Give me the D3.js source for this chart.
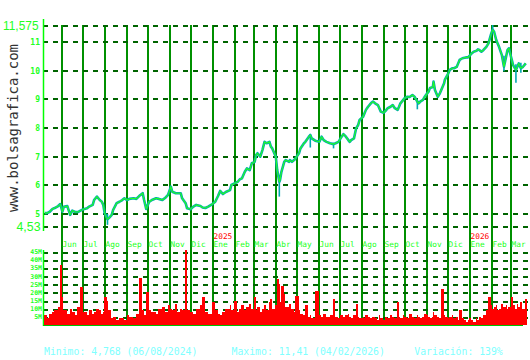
<!DOCTYPE html>
<html><head><meta charset="utf-8">
<script src="https://cdn.jsdelivr.net/npm/d3@7"></script>
<style>body{margin:0;background:#fff}svg{display:block}</style>
</head><body><svg id="c" width="530" height="360"></svg>
<script>
// ---- data ----
const dates = ["2024-05-09","2024-05-13","2024-05-16","2024-05-20","2024-05-23","2024-05-28","2024-05-31","2024-06-03","2024-06-05","2024-06-10",
"2024-06-14","2024-06-17","2024-06-21","2024-06-25","2024-06-28","2024-07-03","2024-07-08","2024-07-11","2024-07-16","2024-07-18",
"2024-07-22","2024-07-26","2024-07-29","2024-07-31","2024-08-02","2024-08-06","2024-08-08","2024-08-12","2024-08-14","2024-08-19",
"2024-08-23","2024-08-27","2024-08-30","2024-09-03","2024-09-06","2024-09-12","2024-09-16","2024-09-20","2024-09-25","2024-09-27",
"2024-09-30","2024-10-04","2024-10-08","2024-10-14","2024-10-18","2024-10-23","2024-10-28","2024-10-31","2024-11-04","2024-11-06",
"2024-11-11","2024-11-14","2024-11-18","2024-11-20","2024-11-25","2024-11-27","2024-12-02","2024-12-06","2024-12-10","2024-12-16",
"2024-12-19","2024-12-23","2024-12-27","2025-01-02","2025-01-06","2025-01-10","2025-01-13","2025-01-17","2025-01-21","2025-01-27",
"2025-01-29","2025-02-03","2025-02-07","2025-02-10","2025-02-13","2025-02-17","2025-02-20","2025-02-24","2025-02-27","2025-03-03",
"2025-03-05","2025-03-07","2025-03-11","2025-03-14","2025-03-17","2025-03-20","2025-03-24","2025-03-26","2025-03-28","2025-04-02",
"2025-04-04","2025-04-07","2025-04-08","2025-04-10","2025-04-14","2025-04-16","2025-04-21","2025-04-22","2025-04-25","2025-04-28",
"2025-04-30","2025-05-05","2025-05-07","2025-05-12","2025-05-14","2025-05-19","2025-05-21","2025-05-23","2025-05-28","2025-06-03",
"2025-06-06","2025-06-09","2025-06-13","2025-06-18","2025-06-23","2025-06-26","2025-06-30","2025-07-03","2025-07-07","2025-07-10",
"2025-07-14","2025-07-16","2025-07-18","2025-07-22","2025-07-25","2025-07-28","2025-07-30","2025-08-04","2025-08-06","2025-08-08",
"2025-08-11","2025-08-15","2025-08-18","2025-08-21","2025-08-25","2025-08-27","2025-08-29","2025-09-02","2025-09-05","2025-09-08",
"2025-09-12","2025-09-15","2025-09-18","2025-09-22","2025-09-24","2025-09-26","2025-09-30","2025-10-02","2025-10-06","2025-10-09",
"2025-10-13","2025-10-16","2025-10-20","2025-10-22","2025-10-24","2025-10-28","2025-10-30","2025-11-03","2025-11-05","2025-11-07",
"2025-11-11","2025-11-12","2025-11-14","2025-11-18","2025-11-21","2025-11-24","2025-11-27","2025-11-28","2025-12-03","2025-12-05",
"2025-12-09","2025-12-11","2025-12-15","2025-12-17","2025-12-19","2025-12-23","2025-12-26","2025-12-29","2025-12-31","2026-01-02",
"2026-01-05","2026-01-08","2026-01-12","2026-01-14","2026-01-16","2026-01-19","2026-01-22","2026-01-26","2026-01-29","2026-02-02",
"2026-02-04","2026-02-06","2026-02-09","2026-02-11","2026-02-13","2026-02-17","2026-02-20","2026-02-23","2026-02-25","2026-02-27",
"2026-03-02","2026-03-05","2026-03-09","2026-03-11","2026-03-13","2026-03-16","2026-03-19","2026-03-23"];

const closes = [4.98,4.99,5.03,5.13,5.16,5.23,5.30,5.03,5.20,5.23,
4.92,5.07,5.02,5.02,5.06,5.12,5.15,5.21,5.27,5.44,
5.56,5.44,5.38,5.27,4.98,4.77,4.81,4.92,5.09,5.33,
5.38,5.44,5.50,5.44,5.48,5.50,5.48,5.58,5.68,5.44,
5.13,5.37,5.44,5.50,5.48,5.44,5.54,5.62,5.91,5.73,
5.68,5.68,5.68,5.50,5.33,5.15,5.12,5.21,5.27,5.23,
5.18,5.16,5.21,5.30,5.38,5.58,5.76,5.65,5.72,5.79,
5.97,6.03,6.08,6.17,6.20,6.43,6.55,6.49,6.73,6.78,
7.02,7.08,6.96,7.19,7.48,7.43,7.48,7.31,7.25,6.96,
6.49,6.08,6.14,6.43,6.78,6.84,6.78,6.84,6.78,6.84,
6.90,7.08,7.25,7.43,7.48,7.66,7.72,7.60,7.52,7.48,
7.66,7.54,7.48,7.43,7.40,7.43,7.48,7.60,7.75,7.68,
7.54,7.48,7.54,7.60,7.95,8.07,8.25,8.36,8.48,8.60,
8.71,8.83,8.89,8.83,8.77,8.66,8.54,8.50,8.57,8.66,
8.71,8.77,8.66,8.60,8.71,8.83,8.95,9.01,9.06,9.05,
9.12,9.06,8.89,8.83,8.89,8.95,9.04,9.18,9.24,9.37,
9.40,9.59,9.30,9.06,9.18,9.36,9.53,9.65,9.88,10.00,
10.06,10.06,10.11,10.23,10.35,10.41,10.43,10.44,10.44,10.49,
10.58,10.64,10.67,10.72,10.70,10.64,10.70,10.81,10.93,11.28,
11.41,11.34,11.05,10.93,10.81,10.52,10.11,10.46,10.70,10.76,
10.46,10.17,10.00,10.11,10.23,10.06,10.11,10.23];

// volume in millions of shares
const volumes = [6,4,7,8,9,11,37,17,9,7,
10,8,6,11,23,8,6,9,7,8,
10,9,7,8,17,15,9,4,5,3,
4,4,3,6,5,4,7,29,9,6,
20,9,8,7,10,11,8,12,10,9,
13,8,10,9,46,9,8,7,10,12,
17,8,7,14,9,7,6,8,10,12,
9,15,8,10,12,9,11,13,10,17,
9,11,8,10,12,9,14,16,10,12,
28,25,14,24,19,11,9,13,10,8,
18,9,7,6,12,5,6,4,21,6,
5,7,5,6,16,5,4,6,5,6,
7,5,4,6,13,5,4,5,4,6,
5,4,5,4,3,6,4,3,5,4,
6,5,4,14,5,4,6,5,4,7,
5,4,6,5,4,5,7,6,5,4,
5,8,6,5,4,22,6,5,4,5,
6,4,5,3,9,4,3,2,3,4,
3,2,4,3,5,4,6,9,17,12,
10,11,12,9,10,13,11,12,10,11,
17,12,10,13,11,14,10,16];

// intraday ranges (teal) where the high/low stands out
const rangeDates = ["2024-08-06","2025-04-07","2025-05-21","2025-06-23","2025-10-20","2026-02-04","2026-02-20","2026-03-09","2026-03-16"];
const rangeLows  = [4.57, 5.56, 7.28, 7.25, 8.62, 11.30, 9.95, 9.55, 9.90];
const rangeHighs = [4.95, 6.30, 7.75, 7.45, 8.95, 11.575, 10.50, 10.20, 10.25];

const priceMin = 4.53, priceMax = 11.575;
const priceTicks = [5, 6, 7, 8, 9, 10, 11];
const volTicks = [5, 10, 15, 20, 25, 30, 35, 40, 45];
const volTickLabels = ["5M","10M","15M","20M","25M","30M","35M","40M","45M"];
const monthNames = ["Ene","Feb","Mar","Abr","May","Jun","Jul","Ago","Sep","Oct","Nov","Dic"];
const minClose = 4.768, minDate = "06/08/2024";
const maxClose = 11.41, maxDate = "04/02/2026";

// ---- chart ----
const parse = d3.timeParse("%Y-%m-%d");
const rows = dates.map((d, i) => ({date: parse(d), close: closes[i], vol: volumes[i]}));
const ranges = rangeDates.map((d, i) => ({date: parse(d), low: rangeLows[i], high: rangeHighs[i]}));

const svg = d3.select("#c");
const x = d3.scaleTime().domain([parse("2024-06-01"), parse("2026-03-01")]).range([61, 510.3]);
const y = d3.scaleLinear().domain([priceMin, priceMax]).range([226, 25]);
const yv = d3.scaleLinear().domain([0, 45]).range([325, 251.6]);
const fmt = v => String(v).replace(".", ",");

const LEFT = 43, RIGHT = 528;
const dashCol = "#006400", monthCol = "#009000", axisCol = "#00ff00", labCol = "#22ff22";

// month grid lines
const months = d3.timeMonth.range(parse("2024-06-01"), parse("2026-03-02"));
svg.append("g").selectAll("line").data(months).join("line")
  .attr("x1", d => Math.round(x(d)) + 0.5).attr("x2", d => Math.round(x(d)) + 0.5)
  .attr("y1", 25).attr("y2", 325)
  .attr("stroke", monthCol).attr("stroke-width", 2).attr("shape-rendering", "crispEdges");

// horizontal dashed price grid
const priceLines = [priceMin].concat(priceTicks, [priceMax]);
svg.append("g").selectAll("line").data(priceLines).join("line")
  .attr("x1", LEFT).attr("x2", RIGHT)
  .attr("y1", d => Math.round(y(d)) + 0.5).attr("y2", d => Math.round(y(d)) + 0.5)
  .attr("stroke", dashCol).attr("stroke-width", 2).attr("stroke-dasharray", "5,5")
  .attr("shape-rendering", "crispEdges");

// volume dashed grid
svg.append("g").selectAll("line").data(volTicks).join("line")
  .attr("x1", LEFT).attr("x2", RIGHT)
  .attr("y1", d => Math.round(yv(d)) + 0.5).attr("y2", d => Math.round(yv(d)) + 0.5)
  .attr("stroke", dashCol).attr("stroke-width", 2).attr("stroke-dasharray", "5,5")
  .attr("shape-rendering", "crispEdges");

// left axis lines
svg.append("line").attr("x1", LEFT + 0.5).attr("x2", LEFT + 0.5).attr("y1", 19).attr("y2", 231)
  .attr("stroke", axisCol).attr("stroke-width", 1.5);
svg.append("line").attr("x1", LEFT + 0.5).attr("x2", LEFT + 0.5).attr("y1", 250).attr("y2", 326)
  .attr("stroke", axisCol).attr("stroke-width", 1.5);

// volume bars
svg.append("g").selectAll("rect").data(rows).join("rect")
  .attr("x", d => x(d.date) - 0.5)
  .attr("width", (d, i) => i < rows.length - 1 ? Math.max(1, x(rows[i + 1].date) - x(d.date)) : 1.5)
  .attr("y", d => yv(d.vol))
  .attr("height", d => yv(0) - yv(d.vol))
  .attr("fill", "#ff0000").attr("shape-rendering", "crispEdges");

// bottom frame line
svg.append("line").attr("x1", LEFT).attr("x2", 523).attr("y1", 325.5).attr("y2", 325.5)
  .attr("stroke", "#00c000").attr("stroke-width", 1);

// price: teal range underlay + ranges + green close line
const line = d3.line().x(d => x(d.date)).y(d => y(d.close));
svg.append("path").datum(rows).attr("d", line).attr("fill", "none")
  .attr("stroke", "#00a8b0").attr("stroke-width", 2.6).attr("stroke-linejoin", "round");
svg.append("g").selectAll("line").data(ranges).join("line")
  .attr("x1", d => x(d.date)).attr("x2", d => x(d.date))
  .attr("y1", d => y(d.low)).attr("y2", d => y(d.high))
  .attr("stroke", "#00a8b0").attr("stroke-width", 1.6);
svg.append("path").datum(rows).attr("d", line).attr("fill", "none")
  .attr("stroke", "#22ff22").attr("stroke-width", 1.1).attr("stroke-linejoin", "round");

// price tick labels
svg.append("g").selectAll("text").data(priceTicks).join("text")
  .attr("x", 40).attr("y", d => y(d) + 4)
  .attr("text-anchor", "end").attr("font-family", "DejaVu Sans Mono").attr("font-weight", "bold")
  .attr("font-size", 8).attr("fill", labCol).text(d => d);
svg.append("text").attr("x", 38.5).attr("y", y(priceMax) + 5)
  .attr("text-anchor", "end").attr("font-family", "Liberation Sans").attr("font-size", 12.5)
  .attr("textLength", 35.5).attr("lengthAdjust", "spacingAndGlyphs")
  .attr("fill", labCol).text(fmt(priceMax));
svg.append("text").attr("x", 40.5).attr("y", y(priceMin) + 4.5)
  .attr("text-anchor", "end").attr("font-family", "Liberation Sans").attr("font-size", 12.5)
  .attr("textLength", 24).attr("lengthAdjust", "spacingAndGlyphs")
  .attr("fill", labCol).text(fmt(priceMin));

// volume labels
svg.append("g").selectAll("text").data(volTicks).join("text")
  .attr("x", 42).attr("y", d => yv(d) + 2.5)
  .attr("text-anchor", "end").attr("font-family", "DejaVu Sans Mono").attr("font-weight", "bold")
  .attr("font-size", 6.5).attr("fill", labCol).text((d, i) => volTickLabels[i]);

// month labels & years
svg.append("g").selectAll("text").data(months).join("text")
  .attr("x", d => Math.round(x(d)) + 1.5).attr("y", 247)
  .attr("font-family", "DejaVu Sans Mono").attr("font-size", 7.8).attr("fill", labCol)
  .text(d => monthNames[d.getMonth()]);
svg.append("g").selectAll("text").data(months.filter(d => d.getMonth() === 0)).join("text")
  .attr("x", d => Math.round(x(d)) + 1.5).attr("y", 238.5)
  .attr("font-family", "DejaVu Sans Mono").attr("font-size", 7.8).attr("fill", "#ff0000")
  .text(d => d.getFullYear());

// watermark
svg.append("text").attr("transform", "translate(18,128) rotate(-90)")
  .attr("text-anchor", "middle").attr("font-family", "DejaVu Sans Mono").attr("font-size", 14)
  .attr("textLength", 168).attr("fill", "#333").text("www.bolsagrafica.com");

// footer stats
const variation = Math.round((maxClose / minClose - 1) * 100);
const footer = [
  {x: 44, t: "Minimo: " + fmt(minClose) + " (" + minDate + ")"},
  {x: 231.5, t: "Maximo: " + fmt(maxClose) + " (" + maxDate + ")"},
  {x: 414.3, t: "Variación: " + variation + "%"}
];
svg.append("g").selectAll("text").data(footer).join("text")
  .attr("x", d => d.x).attr("y", 355)
  .attr("font-family", "DejaVu Sans Mono").attr("font-size", 9.8).attr("fill", "#80ffff")
  .text(d => d.t);
</script></body></html>
